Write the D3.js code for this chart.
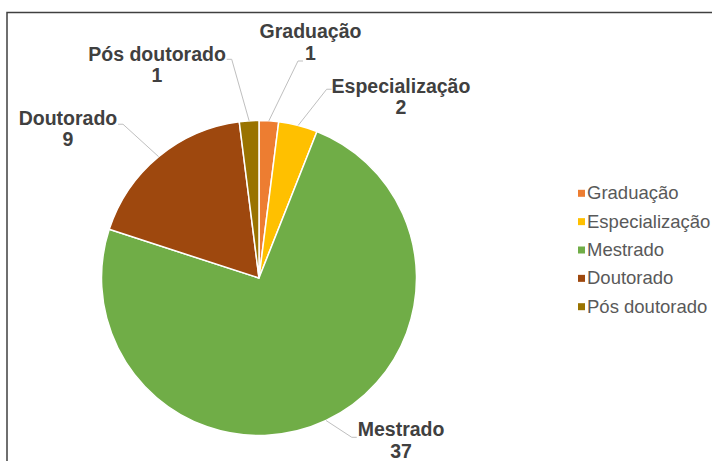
<!DOCTYPE html>
<html>
<head>
<meta charset="utf-8">
<script src="https://cdn.jsdelivr.net/npm/d3@7"></script>
<style>
  html, body { margin: 0; padding: 0; background: #fff; }
  svg { display: block; }
</style>
</head>
<body>
<div id="chart-area"></div>
<script>
var categories = ['Graduação', 'Especialização', 'Mestrado', 'Doutorado', 'Pós doutorado']
var values = [1, 2, 37, 9, 1]
var sliceColors = ['#ED7D31', '#FFC000', '#70AD47', '#9E480E', '#997300']

// label text anchor relative to the slice edge point, leader end relative to the text anchor
var labelOffsets = [
  { dx: 41.6, dy: -82.5, lx: -7.5, ly: 22.7 },
  { dx: 102.8, dy: -32.8, lx: -69.3, ly: -3.4 },
  { dx: 75, dy: 15.5, lx: -44.3, ly: 1.3 },
  { dx: -90.6, dy: -31.7, lx: 50, ly: -0.7 },
  { dx: -92.1, dy: -60.1, lx: 69.7, ly: -1.4 }
]

var W = 712, H = 461
var cx = 259, cy = 278, radius = 157.5

var data = categories.map((c, i) => ({ name: c, value: values[i], color: sliceColors[i], off: labelOffsets[i] }))

var svg = d3.select('#chart-area').append('svg')
    .attr('width', W)
    .attr('height', H)

// chart frame (runs off the right and bottom of the picture)
svg.append('rect')
    .attr('x', 7)
    .attr('y', 12.5)
    .attr('width', W + 20)
    .attr('height', H + 20)
    .attr('fill', 'none')
    .attr('stroke', '#404040')
    .attr('stroke-width', 1.5)

var pie = d3.pie().sort(null).value(d => d.value)
var arc = d3.arc().innerRadius(0).outerRadius(radius)

var arcs = pie(data)

var g = svg.append('g').attr('transform', `translate(${cx}, ${cy})`)

g.selectAll('path.slice').data(arcs)
  .enter().append('path')
    .attr('class', 'slice')
    .attr('d', arc)
    .attr('fill', d => d.data.color)
    .attr('stroke', '#fff')
    .attr('stroke-width', 1.5)
    .attr('stroke-linejoin', 'round')

// data labels with leader lines
var lineHeight = 21.5
arcs.forEach(d => {
  var mid = (d.startAngle + d.endAngle) / 2
  var ex = radius * Math.sin(mid)
  var ey = -radius * Math.cos(mid)
  var o = d.data.off
  var tx = ex + o.dx, ty = ey + o.dy
  var lx = tx + o.lx, ly = ty + o.ly
  var dir = ex < lx ? -1 : 1
  var kx = lx + dir * 5

  g.append('polyline')
      .attr('points', `${ex},${ey} ${kx},${ly} ${lx},${ly}`)
      .attr('fill', 'none')
      .attr('stroke', '#BFBFBF')
      .attr('stroke-width', 1)

  var t = g.append('text')
      .attr('x', tx)
      .attr('y', ty)
      .attr('text-anchor', 'middle')
      .attr('font-family', 'Liberation Sans, Arial, sans-serif')
      .attr('font-weight', 'bold')
      .attr('font-size', '19.5px')
      .attr('fill', '#404040')
  t.append('tspan').attr('x', tx).text(d.data.name)
  t.append('tspan').attr('x', tx).attr('dy', lineHeight).text(d.data.value)
})

// legend
var legend = svg.append('g').attr('transform', 'translate(578, 193.3)')
var rowH = 28.35

var items = legend.selectAll('g.item').data(data)
  .enter().append('g')
    .attr('class', 'item')
    .attr('transform', (d, i) => `translate(0, ${i * rowH})`)

items.append('rect')
    .attr('x', 0)
    .attr('y', -3.5)
    .attr('width', 7)
    .attr('height', 7)
    .attr('fill', d => d.color)

items.append('text')
    .attr('x', 9)
    .attr('y', 6)
    .attr('font-family', 'Liberation Sans, Arial, sans-serif')
    .attr('font-size', '18.5px')
    .attr('fill', '#595959')
    .text(d => d.name)
</script>
</body>
</html>
